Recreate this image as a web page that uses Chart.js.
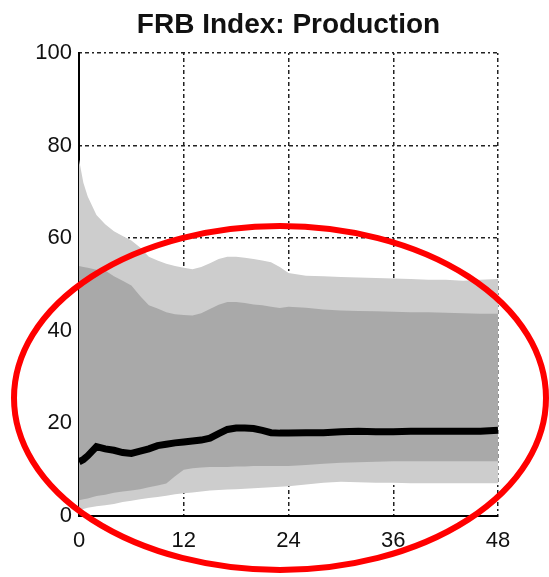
<!DOCTYPE html>
<html>
<head>
<meta charset="utf-8">
<script src="https://cdn.jsdelivr.net/npm/chart.js@4"></script>
<style>
  html, body { margin: 0; padding: 0; background: #fff; }
  #wrap { width: 549px; height: 577px; }
</style>
</head>
<body>
<div id="wrap"><canvas id="frbChart" width="549" height="577"></canvas></div>
<script>
// Horizon in months, and the response bands
const months = [0, 0.5, 1, 2, 3, 4, 5, 6, 7, 8, 9, 10, 11, 12, 13, 14, 15, 16, 17, 18, 19, 20, 21, 22, 23, 24, 26, 28, 30, 32, 34, 36, 38, 40, 42, 44, 46, 48];

const upper90 = [77, 72, 69, 65, 63, 61.5, 60.5, 59.5, 58, 56, 55.2, 54.5, 54, 53.6, 53.3, 53.8, 54.6, 55.5, 56, 56, 55.8, 55.5, 55.2, 54.8, 53.8, 52.5, 51.9, 51.8, 51.6, 51.5, 51.4, 51.3, 51.2, 51, 51, 50.8, 51, 51.2];
const upper68 = [54, 53.8, 53.6, 53.2, 53, 51.8, 50.8, 49.8, 47.5, 45.5, 44.8, 44, 43.6, 43.4, 43.3, 43.8, 44.7, 45.6, 46.2, 46.2, 46, 45.7, 45.5, 45.2, 44.9, 45.2, 45, 44.6, 44.4, 44.3, 44.2, 44.1, 44, 44, 43.9, 43.8, 43.7, 43.7];
const median = [11.7, 12.2, 13, 15, 14.5, 14.2, 13.7, 13.5, 14, 14.5, 15.2, 15.5, 15.8, 16, 16.2, 16.4, 16.8, 17.8, 18.7, 19, 19, 18.9, 18.5, 18, 17.9, 17.9, 18, 18, 18.2, 18.3, 18.2, 18.2, 18.3, 18.3, 18.3, 18.3, 18.3, 18.5];
const lower68 = [3.4, 3.6, 3.8, 4.3, 4.6, 5, 5.3, 5.5, 5.8, 6.2, 6.6, 7, 8.6, 10, 10.3, 10.5, 10.6, 10.6, 10.6, 10.7, 10.7, 10.8, 10.8, 10.8, 10.8, 10.8, 11, 11.3, 11.5, 11.6, 11.7, 11.8, 11.8, 11.85, 11.85, 11.85, 11.85, 11.85];
const lower90 = [1.2, 1.5, 1.8, 2.1, 2.3, 2.6, 3, 3.3, 3.6, 3.9, 4.1, 4.4, 4.7, 4.9, 5.1, 5.3, 5.5, 5.6, 5.7, 5.8, 5.9, 6, 6.1, 6.2, 6.3, 6.4, 6.8, 7.2, 7.4, 7.3, 7.2, 7.2, 7.1, 7.1, 7.1, 7.1, 7.1, 7.1];

const xTicks = [0, 12, 24, 36, 48];
const yTicks = [0, 20, 40, 60, 80, 100];
const chartTitle = 'FRB Index: Production';

function pts(values) {
    return months.map((m, i) => ({ x: m, y: values[i] }));
}

const band = (label, values, color, fillTo) => ({
    label: label,
    data: pts(values),
    borderWidth: 0,
    pointRadius: 0,
    tension: 0,
    backgroundColor: color,
    fill: fillTo
});

// Title centred over the plot area, plus the red ellipse drawn on top
const extras = {
    id: 'extras',
    afterDraw(chart) {
        const ctx = chart.ctx;
        const area = chart.chartArea;
        ctx.save();
        ctx.fillStyle = '#111';
        ctx.font = 'bold 28px "Liberation Sans", Arial, sans-serif';
        ctx.textAlign = 'center';
        ctx.textBaseline = 'alphabetic';
        ctx.fillText(chartTitle, (area.left + area.right) / 2, 33);

        ctx.strokeStyle = '#ff0000';
        ctx.lineWidth = 6;
        ctx.beginPath();
        ctx.ellipse(280, 398, 266, 172, 0, 0, Math.PI * 2);
        ctx.stroke();
        ctx.restore();
    }
};

const gridDash = [2, 3, 4, 3];
const tickFont = { family: '"Liberation Sans", Arial, sans-serif', size: 22 };

new Chart(document.getElementById('frbChart').getContext('2d'), {
    type: 'line',
    data: {
        datasets: [
            {
                label: 'Median',
                data: pts(median),
                borderColor: '#000',
                borderWidth: 7,
                pointRadius: 0,
                tension: 0,
                fill: false
            },
            band('68% upper', upper68, '#a9a9a9', 2),
            band('68% lower', lower68, 'rgba(0,0,0,0)', false),
            band('90% upper', upper90, '#cdcdcd', 4),
            band('90% lower', lower90, 'rgba(0,0,0,0)', false)
        ]
    },
    options: {
        responsive: false,
        animation: false,
        layout: {
            padding: { top: 53, right: 51, left: 0, bottom: 0 }
        },
        plugins: {
            legend: { display: false },
            title: { display: false },
            tooltip: { enabled: false }
        },
        scales: {
            x: {
                type: 'linear',
                min: 0,
                max: 48,
                afterBuildTicks: (scale) => { scale.ticks = xTicks.map(v => ({ value: v })); },
                afterFit: (scale) => { scale.height = 61; },
                ticks: {
                    color: '#111',
                    font: tickFont,
                    padding: 12,
                    maxRotation: 0
                },
                grid: {
                    color: '#222',
                    lineWidth: 1.5,
                    drawTicks: false
                },
                border: { display: true, color: '#000', width: 2, dash: gridDash }
            },
            y: {
                min: 0,
                max: 100,
                afterBuildTicks: (scale) => { scale.ticks = yTicks.map(v => ({ value: v })); },
                afterFit: (scale) => { scale.width = 79; },
                ticks: {
                    color: '#111',
                    font: tickFont,
                    padding: 7
                },
                grid: {
                    color: '#222',
                    lineWidth: 1.5,
                    drawTicks: false
                },
                border: { display: true, color: '#000', width: 2, dash: gridDash }
            }
        }
    },
    plugins: [extras]
});
</script>
</body>
</html>
